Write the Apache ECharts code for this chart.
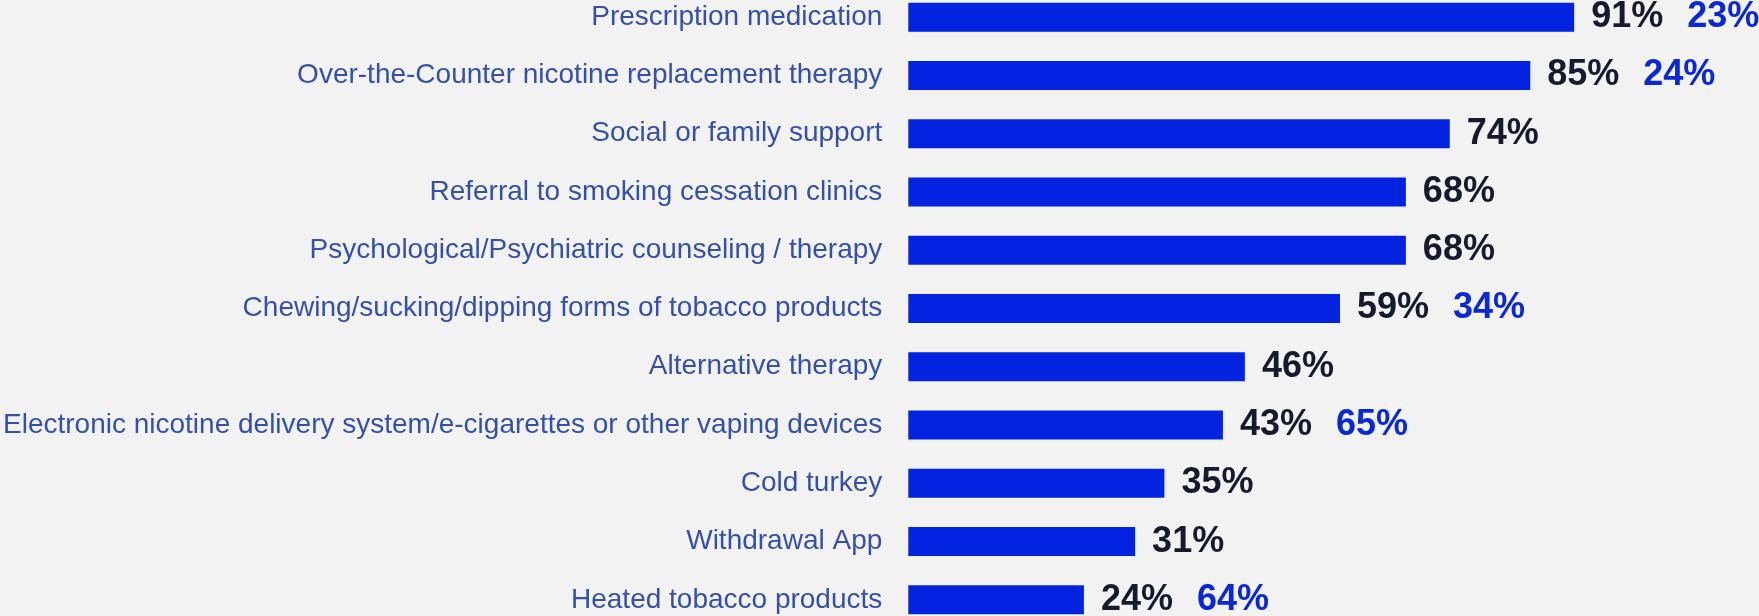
<!DOCTYPE html>
<html>
<head>
<meta charset="utf-8">
<script src="https://cdn.jsdelivr.net/npm/echarts@6/dist/echarts.min.js"></script>
<style>
html,body{margin:0;padding:0;background:#f2f2f2;overflow:hidden;width:1759px;height:616px;position:relative;}
#chart{position:absolute;left:0;top:-12px;width:1759px;height:641px;}
</style>
</head>
<body>
<div id="chart"></div>
<script>
const categories = [
  "Prescription medication",
  "Over-the-Counter nicotine replacement therapy",
  "Social or family support",
  "Referral to smoking cessation clinics",
  "Psychological/Psychiatric counseling / therapy",
  "Chewing/sucking/dipping forms of tobacco products",
  "Alternative therapy",
  "Electronic nicotine delivery system/e-cigarettes or other vaping devices",
  "Cold turkey",
  "Withdrawal App",
  "Heated tobacco products"
];
const values = [91, 85, 74, 68, 68, 59, 46, 43, 35, 31, 24];
const secondValues = [23, 24, null, null, null, 34, null, 65, null, null, 64];

const chart = echarts.init(document.getElementById('chart'), null, {renderer: 'canvas'});
chart.setOption({
  backgroundColor: '#f2f2f2',
  animation: false,
  grid: {left: 904, right: 119, top: 0, bottom: 0, containLabel: false},
  xAxis: {type: 'value', min: 0, max: 100, show: false},
  yAxis: {
    type: 'category',
    data: categories,
    inverse: true,
    axisLine: {show: false},
    axisTick: {show: false},
    splitLine: {show: false},
    axisLabel: {
      margin: 26,
      fontFamily: 'Liberation Sans, Arial, sans-serif',
      fontSize: 28,
      color: '#3550a8'
    }
  },
  series: [{
    type: 'bar',
    data: values,
    barWidth: 29,
    itemStyle: {color: '#0323e0'},
    label: {
      show: true,
      position: 'right',
      distance: 17,
      formatter: function (p) {
        const s = secondValues[p.dataIndex];
        return '{a|' + p.value + '%}' + (s != null ? '{b|' + s + '%}' : '');
      },
      rich: {
        a: {fontFamily: 'Liberation Sans, Arial, sans-serif', fontSize: 36, fontWeight: 'bold', color: '#151b2d'},
        b: {fontFamily: 'Liberation Sans, Arial, sans-serif', fontSize: 36, fontWeight: 'bold', color: '#0a28d8', padding: [0, 0, 0, 24]}
      }
    }
  }]
});
</script>
</body>
</html>
